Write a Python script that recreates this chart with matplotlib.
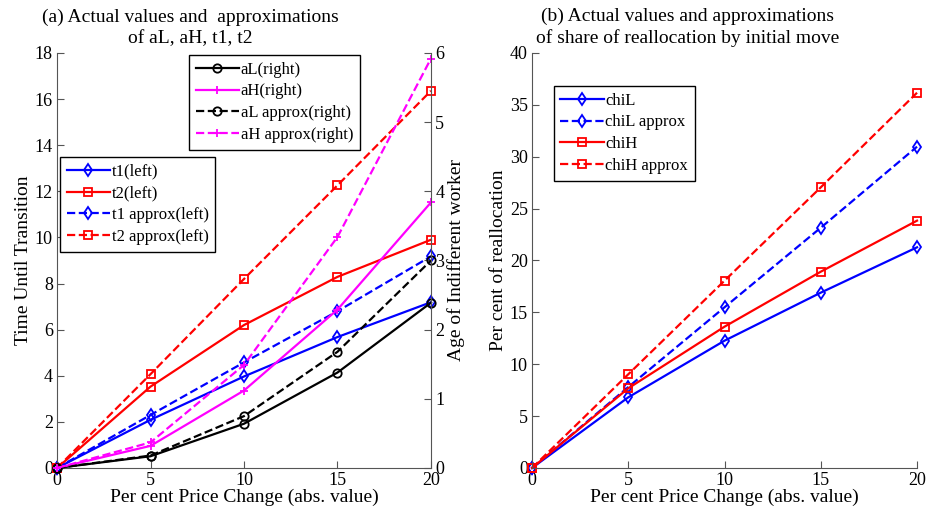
import matplotlib.pyplot as plt
import numpy as np

plt.rcParams['font.family'] = ['Liberation Serif', 'DejaVu Serif']
plt.rcParams['font.size'] = 12
plt.rcParams['xtick.direction'] = 'in'
plt.rcParams['ytick.direction'] = 'in'

# Data
price_change = [0, 5, 10, 15, 20]

t1 = [0, 2.09, 3.97, 5.68, 7.19]
t2 = [0, 3.53, 6.2, 8.29, 9.9]
t1_approx = [0, 2.3, 4.58, 6.8, 9.18]
t2_approx = [0, 4.07, 8.2, 12.26, 16.36]

aL = [0, 0.17, 0.64, 1.38, 2.39]
aH = [0, 0.32, 1.12, 2.29, 3.84]
aL_approx = [0, 0.18, 0.75, 1.68, 3.0]
aH_approx = [0, 0.37, 1.49, 3.34, 5.92]

chiL = [0, 6.81, 12.27, 16.9, 21.27]
chiL_approx = [0, 7.8, 15.49, 23.16, 30.97]
chiH = [0, 7.68, 13.62, 18.92, 23.84]
chiH_approx = [0, 9.03, 18.05, 27.05, 36.17]

spine_col = '#555555'
lw = 1.6
ms = 6

fig = plt.figure(figsize=(9.26, 5.14), dpi=100)
ax1 = fig.add_axes([0.0616, 0.0895, 0.4038, 0.8074])
ax2 = ax1.twinx()
ax3 = fig.add_axes([0.5745, 0.0895, 0.4158, 0.8074])


def style(ax, right=False):
    ax.spines['top'].set_visible(False)
    ax.spines['right'].set_visible(right)
    for s in ax.spines.values():
        s.set_color(spine_col)
    ax.tick_params(colors=spine_col, labelcolor='black', labelsize=13,
                   length=5, pad=3)


def mk(ax, y, color, ls, marker, label):
    return ax.plot(price_change, y, color=color, ls=ls, marker=marker, lw=lw,
                   ms=ms, mfc='none', mew=1.3, label=label)[0]


# (a) left axis
h1 = [mk(ax1, t1, 'blue', '-', 'd', 't1(left)'),
      mk(ax1, t2, 'red', '-', 's', 't2(left)'),
      mk(ax1, t1_approx, 'blue', '--', 'd', 't1 approx(left)'),
      mk(ax1, t2_approx, 'red', '--', 's', 't2 approx(left)')]
# (a) right axis
h2 = [mk(ax2, aL, 'black', '-', 'o', 'aL(right)'),
      mk(ax2, aH, 'magenta', '-', '+', 'aH(right)'),
      mk(ax2, aL_approx, 'black', '--', 'o', 'aL approx(right)'),
      mk(ax2, aH_approx, 'magenta', '--', '+', 'aH approx(right)')]

ax1.set_xlim(0, 20)
ax1.set_ylim(0, 18)
ax1.set_yticks(np.arange(0, 19, 2))
ax1.set_xticks([0, 5, 10, 15, 20])
ax2.set_ylim(0, 6)
ax2.set_yticks(np.arange(0, 7, 1))
style(ax1)
style(ax2, right=True)
ax2.spines['left'].set_visible(False)
ax2.spines['bottom'].set_visible(False)
ax1.set_xlabel('Per cent Price Change (abs. value)', fontsize=14, labelpad=0)
ax1.set_ylabel('Time Until Transition', fontsize=14, labelpad=2)
ax2.set_ylabel('Age of Indifferent worker', fontsize=14, labelpad=2)
ax1.set_title('(a) Actual values and  approximations\nof aL, aH, t1, t2',
              fontsize=14, linespacing=1.3, pad=7, x=0.356)

leg_kw = dict(loc='upper left', fancybox=False, edgecolor='black',
              framealpha=1, borderaxespad=0, handlelength=2.6,
              handletextpad=0.1, labelspacing=0.35, fontsize=12,
              borderpad=0.4)
leg1 = fig.legend(handles=h2, bbox_to_anchor=(0.204, 0.893), **leg_kw)
leg2 = fig.legend(handles=h1, bbox_to_anchor=(0.0648, 0.6946), **leg_kw)
for lg in (leg1, leg2):
    lg.get_frame().set_linewidth(1.0)

# (b)
h3 = [mk(ax3, chiL, 'blue', '-', 'd', 'chiL'),
      mk(ax3, chiL_approx, 'blue', '--', 'd', 'chiL approx'),
      mk(ax3, chiH, 'red', '-', 's', 'chiH'),
      mk(ax3, chiH_approx, 'red', '--', 's', 'chiH approx')]
ax3.set_xlim(0, 20)
ax3.set_ylim(0, 40)
ax3.set_xticks([0, 5, 10, 15, 20])
ax3.set_yticks(np.arange(0, 41, 5))
style(ax3)
ax3.set_xlabel('Per cent Price Change (abs. value)', fontsize=14, labelpad=0)
ax3.set_ylabel('Per cent of reallocation', fontsize=14, labelpad=2)
ax3.set_title('(b) Actual values and approximations\nof share of reallocation by initial move',
              fontsize=14, linespacing=1.3, pad=7, x=0.405)
leg3 = fig.legend(handles=h3, bbox_to_anchor=(0.598, 0.8327), **leg_kw)
leg3.get_frame().set_linewidth(1.0)

for ax in (ax1, ax2, ax3):
    for l in ax.lines:
        l.set_clip_on(False)

fig.savefig('out.png', dpi=100)
